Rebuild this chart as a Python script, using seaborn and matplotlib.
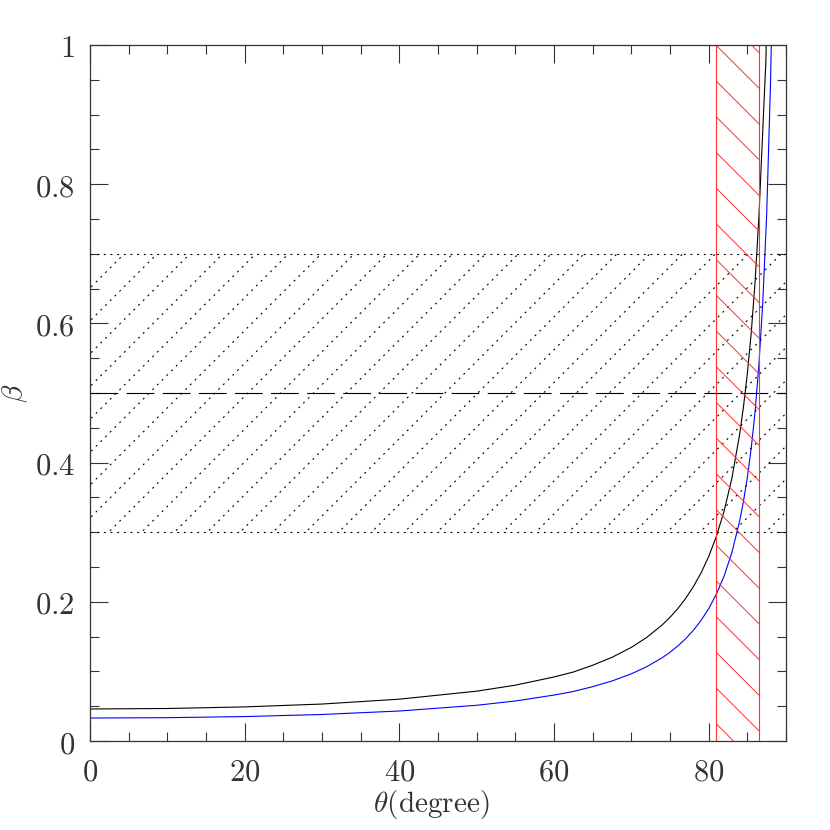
import numpy as np
import pandas as pd
import seaborn as sns
import matplotlib.pyplot as plt
from matplotlib.patches import Rectangle
from matplotlib.ticker import MultipleLocator, FuncFormatter

# curves
theta_black = [0, 10, 20, 30, 40, 50, 55, 60, 62.5, 65, 67.5, 70, 72, 74, 75,
               76, 77, 78, 79, 80, 81, 82, 83, 84, 84.5, 85, 85.5, 86, 86.5,
               87, 87.4, 87.6]
beta_black = [0.046, 0.0467, 0.049, 0.0531, 0.0601, 0.0716, 0.0802, 0.092,
              0.0991, 0.1089, 0.1202, 0.1345, 0.1489, 0.1669, 0.1777, 0.1901,
              0.2045, 0.2213, 0.2411, 0.265, 0.2941, 0.3305, 0.3774, 0.4402,
              0.4801, 0.5278, 0.586, 0.6594, 0.7536, 0.8789, 0.977, 1.098]
theta_blue = [0, 10, 20, 30, 40, 50, 55, 60, 62.5, 65, 67.5, 70, 72, 74, 75,
              76, 77, 78, 79, 80, 81, 82, 83, 84, 84.5, 85, 85.5, 86, 86.5,
              87, 87.5, 88, 88.3]
beta_blue = [0.033, 0.0335, 0.0351, 0.0381, 0.0431, 0.0513, 0.0575, 0.066,
             0.0711, 0.0781, 0.0862, 0.0965, 0.1068, 0.1197, 0.1275, 0.1364,
             0.1467, 0.1587, 0.173, 0.1901, 0.211, 0.2371, 0.2707, 0.3158,
             0.3444, 0.3784, 0.4204, 0.4728, 0.541, 0.631, 0.7567, 0.9455,
             1.112]

band_low, band_mid, band_high = 0.3, 0.5, 0.7
excl_left, excl_right = 81, 86.5

df = pd.concat([
    pd.DataFrame({"theta": theta_black, "beta": beta_black, "curve": "a"}),
    pd.DataFrame({"theta": theta_blue, "beta": beta_blue, "curve": "b"}),
])

sns.set_style("ticks")
plt.rcParams["font.family"] = ["DejaVu Serif"]
plt.rcParams["mathtext.fontset"] = "cm"
plt.rcParams["lines.scale_dashes"] = False

fig = plt.figure(figsize=(4.15, 4.15), dpi=200)
ax = fig.add_axes([90 / 830, 89 / 830, 696 / 830, 696 / 830])

sns.lineplot(data=df, x="theta", y="beta", hue="curve",
             palette={"a": "black", "b": "blue"}, linewidth=0.4,
             legend=False, ax=ax, sort=False)

dot = (0, (0.7, 1.7))
ax.axhline(band_low, color="black", lw=0.4, ls=dot)
ax.axhline(band_high, color="black", lw=0.4, ls=dot)
ax.axhline(band_mid, color="black", lw=0.4, ls=(0, (10, 3)))

# dotted hatching of the band
band_clip = Rectangle((0, band_low), 1, band_high - band_low,
                      transform=ax.transAxes, fill=False, lw=0)
ax.add_patch(band_clip)
for k in range(32):
    c = 0.698 - k * 0.0472
    ln, = ax.plot([-0.1, 1.1], [-0.1 + c, 1.1 + c], transform=ax.transAxes,
                  color="black", lw=0.4, ls=dot)
    ln.set_clip_path(band_clip)

# red hatched region
ax.axvline(excl_left, color="#ff3030", lw=0.4)
ax.axvline(excl_right, color="#ff3030", lw=0.4)
red_clip = Rectangle((excl_left / 90, 0), (excl_right - excl_left) / 90, 1,
                     transform=ax.transAxes, fill=False, lw=0)
ax.add_patch(red_clip)
for k in range(-8, 16):
    c = 1.2323 + k * 0.0513
    ln, = ax.plot([0.8, 1.1], [c - 0.8, c - 1.1], transform=ax.transAxes,
                  color="#ff3030", lw=0.35)
    ln.set_clip_path(red_clip)

ax.set_xlim(0, 90)
ax.set_ylim(0, 1)
ax.xaxis.set_major_locator(MultipleLocator(20))
ax.xaxis.set_minor_locator(MultipleLocator(5))
ax.yaxis.set_major_locator(MultipleLocator(0.2))
ax.yaxis.set_minor_locator(MultipleLocator(0.05))
fmt = FuncFormatter(lambda v, p: "$%g$" % round(v, 2))
ax.xaxis.set_major_formatter(fmt)
ax.yaxis.set_major_formatter(fmt)
ax.tick_params(which="both", direction="in", top=True, right=True,
               width=0.4, color="#333333", labelsize=11, labelcolor="#333333")
ax.tick_params(which="major", length=6.5, pad=5.5)
ax.tick_params(which="minor", length=3.2)
for s in ax.spines.values():
    s.set_linewidth(0.45)
    s.set_color("#333333")

ax.set_xlabel(r"$\theta\mathrm{(degree)}$", fontsize=10.5, color="#333333")
ax.set_ylabel(r"$\beta$", fontsize=10.5, color="#333333")
ax.xaxis.set_label_coords(0.49, -47 / 696)
ax.yaxis.set_label_coords(-60 / 696, 0.5)

fig.savefig("out.png", dpi=200)
